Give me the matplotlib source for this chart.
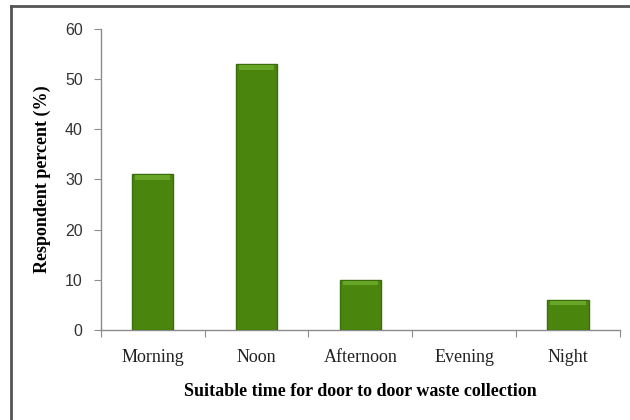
import matplotlib
matplotlib.use('Agg')
import matplotlib.pyplot as plt
from matplotlib.lines import Line2D

categories = ['Morning', 'Noon', 'Afternoon', 'Evening', 'Night']
percent = [31, 53, 10, 0, 6]
yticks = [0, 10, 20, 30, 40, 50, 60]

fig = plt.figure(figsize=(6.3, 4.2), dpi=100)
ax = fig.add_axes([0.160, 0.2143, 0.824, 0.7167])

x = list(range(len(categories)))
for xi, v in zip(x, percent):
    if v <= 0:
        continue
    ax.bar(xi, v, width=0.4, color='#4a860e', edgecolor='#3b6c0b', linewidth=1.0, zorder=3)
    # light bevel along the top of each bar
    ax.bar(xi, 0.9, bottom=v - 1.1, width=0.34, color='#67a526', linewidth=0, zorder=4)

ax.set_xlim(-0.5, len(categories) - 0.5)
ax.set_ylim(0, 60)
ax.set_yticks(yticks)
ax.set_yticklabels([str(t) for t in yticks], fontfamily='Liberation Sans', fontsize=11.5, color='#333333')
ax.set_xticks([i - 0.5 for i in range(len(categories) + 1)])
ax.set_xticklabels([])
ax.set_xticks(x, minor=True)
ax.set_xticklabels(categories, minor=True, fontfamily='Liberation Serif', fontsize=13, color='#222222')
ax.tick_params(axis='x', which='minor', length=0, pad=14)
ax.tick_params(axis='x', which='major', length=5, color='#8c8c8c', direction='out')
ax.tick_params(axis='y', length=5, color='#8c8c8c', direction='out', pad=8)

for s in ['top', 'right']:
    ax.spines[s].set_visible(False)
for s in ['left', 'bottom']:
    ax.spines[s].set_color('#8c8c8c')
    ax.spines[s].set_linewidth(1.0)

ax.set_ylabel('Respondent percent (%)', fontfamily='Liberation Serif', fontweight='bold', fontsize=13, labelpad=10)
ax.set_xlabel('Suitable time for door to door waste collection', fontfamily='Liberation Serif', fontweight='bold', fontsize=13, labelpad=12)

# frame around the chart (left and top edges visible)
fig.add_artist(Line2D([0.017, 0.017], [0.0, 0.985], transform=fig.transFigure, color='#555555', linewidth=2))
fig.add_artist(Line2D([0.017, 1.0], [0.985, 0.985], transform=fig.transFigure, color='#555555', linewidth=2))

fig.savefig('out.png', dpi=100)
